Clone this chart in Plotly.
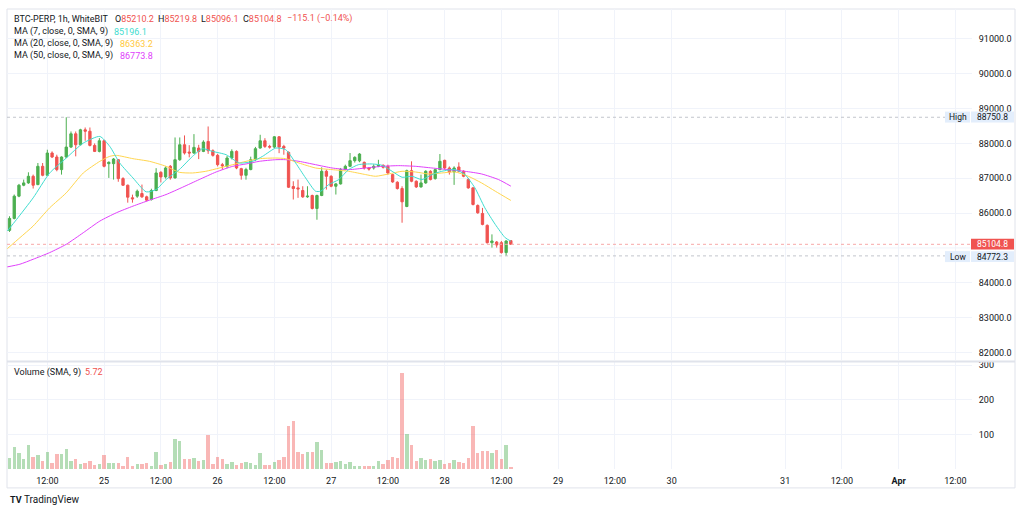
import plotly.graph_objects as go
import pandas as pd

# ---------------- data ----------------
start = pd.Timestamp("2025-03-24 04:00")

opens = [85505, 85848, 86486, 86800, 86867, 87057, 86819, 87343, 87086, 87724,
         87610, 87248, 87610, 87895, 88276, 87962, 88390, 88350, 87943, 87771,
         88076, 87419, 87419, 87533, 86990, 86800, 86440, 86486, 86562, 86467,
         86390, 86648, 87171, 87038, 87343, 87010, 87533, 87962, 87752, 87724,
         87867, 87771, 88057, 87790, 87657, 87390, 87343, 87581, 87771, 87276,
         87086, 87250, 87533, 87867, 88076, 87914, 87895, 88190, 87914, 87743,
         86762, 86724, 86648, 86467, 86505, 86133, 86505, 87200, 87057, 86771,
         86838, 87248, 87343, 87505, 87500, 87457, 87295, 87295, 87343, 87371,
         87343, 87105, 86886, 86705, 86190, 87219, 86914, 86752, 86867, 87200,
         86990, 87248, 87514, 87295, 87181, 87324, 87200, 86962, 86724, 86219,
         85990, 85648, 85152, 85171, 85152, 84867, 85210.2]
highs = [85910, 86533, 86838, 86962, 87171, 87105, 87438, 87438, 87819, 87771,
         87676, 87629, 88750.8, 88343, 88343, 88419, 88457, 88457, 88000, 88152,
         88105, 87486, 87580, 87552, 87030, 86820, 86530, 86676, 86819, 86500,
         86700, 87290, 87200, 87340, 87380, 88171, 88171, 88229, 87950, 88267,
         87960, 88090, 88486, 87830, 87700, 87440, 87640, 87830, 87800, 87300,
         87300, 87620, 87900, 88248, 88150, 87960, 88210, 88210, 87960, 87770,
         86914, 86962, 86771, 86771, 86530, 86530, 87314, 87248, 87086, 86867,
         87295, 87390, 87724, 87630, 87720, 87480, 87320, 87400, 87530, 87400,
         87390, 87130, 86914, 86770, 87248, 87486, 86940, 87105, 87230, 87230,
         87280, 87695, 87533, 87340, 87343, 87457, 87230, 87010, 86750, 86250,
         86150, 85676, 85390, 85200, 85200, 85220, 85219.8]
lows = [85460, 85819, 86457, 86771, 86840, 86705, 86800, 87057, 87067, 87581,
        87200, 87105, 87581, 87867, 87629, 87943, 88076, 87914, 87752, 87743,
        87314, 87010, 86962, 86900, 86780, 86300, 86300, 86438, 86438, 86340,
        86360, 86630, 86880, 86990, 86960, 86990, 87500, 87680, 87600, 87700,
        87550, 87750, 87700, 87620, 87340, 87250, 87290, 87540, 87260, 86960,
        86960, 87230, 87500, 87850, 87870, 87850, 87860, 87720, 87676, 86720,
        86390, 86438, 86438, 86438, 86105, 85810, 86486, 86676, 86743, 86533,
        86820, 87230, 87320, 87450, 87460, 87250, 87220, 87250, 87320, 87280,
        87100, 86870, 86676, 85724, 86170, 86886, 86720, 86730, 86840, 86940,
        86960, 87230, 87250, 87105, 86810, 87170, 87030, 86700, 86220, 85980,
        85650, 85124, 85010, 85010, 84838, 84772.3, 85096.1]
closes = [85848, 86486, 86800, 86867, 87057, 86800, 87343, 87086, 87724, 87610,
          87248, 87610, 87895, 88276, 87962, 88390, 88350, 87943, 87771, 88076,
          87343, 87457, 87552, 86990, 86800, 86457, 86410, 86629, 86467, 86371,
          86648, 87152, 87038, 87295, 87010, 87533, 87962, 87724, 87724, 87886,
          87771, 88038, 87790, 87657, 87390, 87360, 87581, 87771, 87295, 87086,
          87250, 87533, 87848, 88076, 87914, 87895, 88190, 87895, 87867, 86743,
          86705, 86695, 86467, 86486, 86133, 86505, 87200, 87057, 86771, 86838,
          87248, 87343, 87505, 87600, 87695, 87295, 87267, 87343, 87371, 87314,
          87152, 86895, 86705, 86324, 87219, 86914, 86752, 86867, 87200, 86962,
          87248, 87486, 87295, 87181, 87295, 87200, 87057, 86724, 86248, 86010,
          85676, 85152, 85200, 85086, 84867, 85200, 85104.8]
volumes = [31, 62, 44, 27, 67, 33, 38, 21, 47, 17,
           41, 41, 57, 22, 29, 13, 16, 23, 11, 14,
           38, 17, 17, 16, 6, 32, 7, 12, 13, 16,
           7, 47, 9, 14, 18, 85, 81, 29, 28, 31,
           22, 24, 97, 12, 34, 28, 13, 18, 9, 15,
           18, 16, 9, 45, 11, 11, 19, 24, 32, 124,
           136, 47, 42, 49, 49, 77, 53, 15, 17, 19,
           21, 13, 19, 7, 8, 8, 8, 8, 22, 13,
           26, 34, 30, 275, 99, 67, 22, 31, 25, 29,
           22, 24, 13, 15, 26, 19, 16, 31, 122, 46,
           50, 50, 44, 53, 27, 67, 5.72]

# moving averages (hours after first candle, value)
ma7_hours = [-0.46, 1.5, 5.0, 8.5, 12.0, 15.6, 19.1, 21.2, 23.3, 26.1, 28.9, 31.0,
             33.1, 35.9, 38.7, 40.8, 42.9, 45.8, 48.6, 51.4, 53.5, 56.3, 58.4,
             60.5, 62.6, 64.7, 65.8, 67.5, 69.6, 71.7, 73.8, 76.7, 78.8, 80.9,
             83.0, 85.1, 87.2, 89.3, 91.4, 94.2, 96.3, 98.4, 100.5, 102.7, 104.8, 106.0]
ma7_vals = [85486, 85819, 86438, 87152, 87581, 88010, 88200, 87914, 87438, 87010,
            86610, 86676, 86962, 87248, 87629, 87848, 87771, 87676, 87438, 87486,
            87629, 87867, 87819, 87438, 87010, 86629, 86629, 86819, 86962, 87248,
            87390, 87410, 87371, 87200, 87029, 87057, 86962, 87105, 87200, 87248,
            87105, 86724, 86152, 85676, 85295, 85196.1]
ma20_hours = [-0.46, 2.2, 5.0, 8.5, 12.0, 15.6, 19.1, 21.2, 22.6, 26.1, 29.6, 33.1,
              35.9, 38.7, 41.5, 44.4, 47.2, 50.0, 52.8, 56.3, 58.4, 61.2, 64.7,
              68.2, 71.7, 75.3, 77.4, 80.2, 83.0, 85.8, 88.6, 91.4, 94.2, 97.0,
              99.8, 102.7, 106.0]
ma20_vals = [84981, 85295, 85629, 86152, 86581, 87152, 87486, 87629, 87657, 87562,
             87486, 87343, 87171, 87152, 87200, 87295, 87390, 87486, 87562, 87581,
             87562, 87438, 87295, 87248, 87200, 87105, 87057, 87124, 87200, 87181,
             87124, 87152, 87181, 87057, 86867, 86629, 86363.2]
ma50_hours = [-0.46, 2.2, 5.0, 8.5, 12.0, 15.6, 19.1, 22.6, 26.1, 29.6, 33.1, 36.6,
              40.1, 43.7, 47.2, 50.0, 52.8, 56.3, 58.4, 61.2, 64.7, 68.2, 71.7,
              75.3, 78.8, 82.3, 85.8, 89.3, 92.8, 96.3, 99.8, 103.4, 106.0]
ma50_vals = [84457, 84533, 84676, 84867, 85105, 85438, 85771, 86010, 86200, 86371,
             86533, 86743, 86962, 87181, 87343, 87410, 87486, 87533, 87533, 87486,
             87390, 87295, 87248, 87295, 87343, 87362, 87343, 87295, 87248, 87200,
             87124, 86962, 86773.8]

tick_hours = [8, 20, 32, 44, 56, 68, 80, 92, 104, 116, 128, 140, 164, 176, 188, 200]
tick_text = ["12:00", "25", "12:00", "26", "12:00", "27", "12:00", "28", "12:00",
             "29", "12:00", "30", "31", "12:00", "<b>Apr</b>", "12:00"]
# 85000.0 is hidden behind the last-price label in the reference
price_ticks = [82000, 83000, 84000, 86000, 87000, 88000, 89000, 90000, 91000]
hidden_grid = [85000]
vol_ticks = [100, 200, 300]

high_val, low_val, last_val = 88750.8, 84772.3, 85104.8

# ---------------- helpers ----------------
H = pd.Timedelta(hours=1)
times = [start + i * H for i in range(len(opens))]
to_t = lambda hs: [start + pd.Timedelta(hours=h) for h in hs]

UP, DOWN = "#4caf50", "#f05350"
UPV, DOWNV = "rgba(76,175,80,0.42)", "rgba(240,83,80,0.42)"
TXT = "#131722"
GRID = "#f0f3fa"
FONT = "Roboto"

L_, R_, T_, B_ = 7, 972, 7, 469   # plot area in pixels
def PX(x): return (x - L_) / (R_ - L_)
def PY(y): return (B_ - y) / (B_ - T_)

fig = go.Figure()
fig.add_trace(go.Candlestick(
    x=times, open=opens, high=highs, low=lows, close=closes,
    increasing=dict(line=dict(color=UP, width=1), fillcolor=UP),
    decreasing=dict(line=dict(color=DOWN, width=1), fillcolor=DOWN),
    whiskerwidth=0, xaxis="x", yaxis="y", showlegend=False, hoverinfo="skip"))

for hs, vs, col in [(ma50_hours, ma50_vals, "#e040fb"),
                    (ma20_hours, ma20_vals, "#ffd54f"),
                    (ma7_hours, ma7_vals, "#3fdccf")]:
    fig.add_trace(go.Scatter(x=to_t(hs), y=vs, mode="lines",
                             line=dict(color=col, width=1, shape="spline", smoothing=0.6),
                             xaxis="x", yaxis="y", showlegend=False, hoverinfo="skip"))

vcols = [UPV if c >= o else DOWNV for o, c in zip(opens, closes)]
fig.add_trace(go.Bar(x=times, y=volumes, marker=dict(color=vcols, line=dict(width=0)),
                     width=0.72 * 3600 * 1000, xaxis="x2", yaxis="y2",
                     showlegend=False, hoverinfo="skip"))

xr = [start - pd.Timedelta(hours=0.53), start + pd.Timedelta(hours=203.5)]
tickv = to_t(tick_hours)
common_x = dict(range=xr, type="date", tickvals=tickv, showgrid=True, gridcolor=GRID,
                gridwidth=1, zeroline=False, showline=False, fixedrange=True)

fig.update_layout(
    width=1024, height=513, paper_bgcolor="white", plot_bgcolor="white",
    margin=dict(l=L_, r=1024 - R_, t=T_, b=513 - B_),
    font=dict(family=FONT, size=9, color=TXT),
    xaxis=dict(**common_x, anchor="y", showticklabels=False, ticks="",
               rangeslider=dict(visible=False)),
    xaxis2=dict(**common_x, anchor="y2", ticktext=tick_text, ticks="outside",
                ticklen=3, tickcolor="rgba(0,0,0,0)",
                tickfont=dict(family=FONT, size=9, color=TXT)),
    yaxis=dict(domain=[PY(360), 1], range=[81771.4, 91857.1], side="right",
               tickvals=price_ticks, tickformat=".1f", showgrid=True, gridcolor=GRID,
               zeroline=False, showline=False, ticks="outside", ticklen=4,
               tickcolor="rgba(0,0,0,0)", tickfont=dict(family=FONT, size=9, color=TXT)),
    yaxis2=dict(domain=[0, PY(362)], range=[0, 308], side="right", tickvals=vol_ticks,
                showgrid=True, gridcolor=GRID, zeroline=False, showline=False,
                ticks="outside", ticklen=4, tickcolor="rgba(0,0,0,0)",
                tickfont=dict(family=FONT, size=9, color=TXT)),
    bargap=0, hovermode=False,
)

shapes = []
# frame and pane separator
shapes.append(dict(type="rect", xref="paper", yref="paper", x0=PX(7), x1=PX(1015),
                   y0=PY(488), y1=PY(7), line=dict(color="#e0e3eb", width=1), layer="below"))
shapes.append(dict(type="line", xref="paper", yref="paper", x0=PX(7), x1=PX(1015),
                   y0=PY(361), y1=PY(361), line=dict(color="#e0e3eb", width=2)))
for g in hidden_grid:
    shapes.append(dict(type="line", xref="paper", yref="y", x0=0, x1=1, y0=g, y1=g,
                       line=dict(color=GRID, width=1), layer="below"))
# high / low / last price lines
shapes.append(dict(type="line", xref="paper", yref="y", x0=0, x1=PX(945), y0=high_val,
                   y1=high_val, line=dict(color="#c2c5cc", width=1, dash="dot")))
shapes.append(dict(type="line", xref="paper", yref="y", x0=0, x1=PX(945), y0=low_val,
                   y1=low_val, line=dict(color="#c2c5cc", width=1, dash="dot")))
shapes.append(dict(type="line", xref="paper", yref="y", x0=0, x1=1, y0=last_val,
                   y1=last_val, line=dict(color="#f7a8a8", width=1, dash="dot")))

def ypix(p):
    return 247.1 - (p - 85000) * 0.03507

annos = []
for val, lab in [(high_val, "High"), (low_val, "Low")]:
    yc = ypix(val) + (0.6 if lab == "Low" else 0)
    shapes.append(dict(type="rect", xref="paper", yref="paper", x0=PX(945), x1=PX(970),
                       y0=PY(yc + 5.5), y1=PY(yc - 5.5), fillcolor="#e3eefc", line=dict(width=0)))
    shapes.append(dict(type="rect", xref="paper", yref="paper", x0=PX(971), x1=PX(1014),
                       y0=PY(yc + 5.5), y1=PY(yc - 5.5), fillcolor="#e3eefc", line=dict(width=0)))
    annos.append(dict(xref="paper", yref="paper", x=PX(957.5), y=PY(yc), text=lab,
                      showarrow=False, xanchor="center", yanchor="middle",
                      font=dict(size=8.5, color=TXT)))
    annos.append(dict(xref="paper", yref="paper", x=PX(992.5), y=PY(yc), text=f"{val:.1f}",
                      showarrow=False, xanchor="center", yanchor="middle",
                      font=dict(size=8.5, color=TXT)))
yc = ypix(last_val) - 0.3
shapes.append(dict(type="rect", xref="paper", yref="paper", x0=PX(971), x1=PX(1014),
                   y0=PY(yc + 5.3), y1=PY(yc - 5.3), fillcolor="#f05350", line=dict(width=0)))
annos.append(dict(xref="paper", yref="paper", x=PX(992.5), y=PY(yc), text=f"{last_val:.1f}",
                  showarrow=False, xanchor="center", yanchor="middle",
                  font=dict(size=8.5, color="white")))

RED = "#f05350"
def txt(x, y, s, color=TXT, size=9):
    annos.append(dict(xref="paper", yref="paper", x=PX(x), y=PY(y), text=s, showarrow=False,
                      xanchor="left", yanchor="middle", font=dict(size=size, color=color)))

txt(12, 17, "BTC-PERP, 1h, WhiteBIT")
txt(113, 17, f"O<span style='color:{RED}'>{opens[-1]:.1f}</span>")
txt(156, 17, f"H<span style='color:{RED}'>{highs[-1]:.1f}</span>")
txt(199, 17, f"L<span style='color:{RED}'>{lows[-1]:.1f}</span>")
txt(241, 17, f"C<span style='color:{RED}'>{closes[-1]:.1f}</span>")
txt(285, 17, "−115.1 (−0.14%)", RED)
txt(12, 30, "MA (7, close, 0, SMA, 9)")
txt(112, 30, f"{ma7_vals[-1]:.1f}", "#3fdccf")
txt(12, 42, "MA (20, close, 0, SMA, 9)")
txt(118, 42, f"{ma20_vals[-1]:.1f}", "#ffc93c")
txt(12, 54, "MA (50, close, 0, SMA, 9)")
txt(118, 54, f"{ma50_vals[-1]:.1f}", "#e040fb")
txt(12, 372, "Volume (SMA, 9)")
txt(83, 372, f"{volumes[-1]:.2f}", RED)
txt(8, 500, "<b>TV</b>", TXT, 9)
txt(22, 500, "TradingView", TXT, 10)

fig.update_layout(shapes=shapes, annotations=annos)
fig.write_html("out.html")
